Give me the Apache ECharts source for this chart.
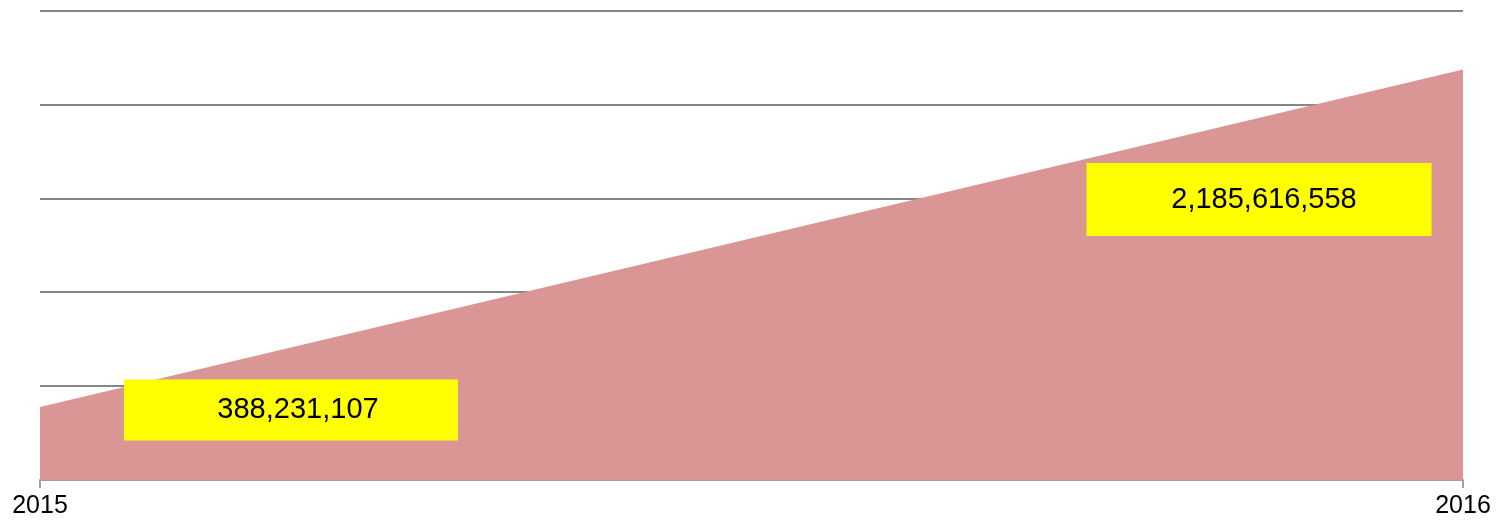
<!DOCTYPE html>
<html>
<head>
<meta charset="utf-8">
<script src="https://cdn.jsdelivr.net/npm/echarts@6/dist/echarts.min.js"></script>
<style>
html,body{margin:0;padding:0;background:#fff;}
#chart{width:1499px;height:526px;}
</style>
</head>
<body>
<div id="chart"></div>
<script>
var categories = ['2015', '2016'];
var values = [388231107, 2185616558];
var labelTexts = ['388,231,107', '2,185,616,558'];

var labelLayouts = [
  {offset: [251, 3], width: 320, padLeft: 14, height: 61},
  {offset: [-204, 130], width: 335, padLeft: 10, height: 73}
];

var chart = echarts.init(document.getElementById('chart'), null, {renderer: 'canvas'});
var seriesData = values.map(function (v, i) {
  return {
    value: v,
    label: {
      show: true,
      position: 'inside',
      offset: labelLayouts[i].offset,
      width: labelLayouts[i].width,
      height: labelLayouts[i].height,
      lineHeight: labelLayouts[i].height,
      padding: [0, 0, 0, labelLayouts[i].padLeft],
      align: 'center',
      verticalAlign: 'middle',
      backgroundColor: '#FFFF00',
      color: '#000',
      fontFamily: 'Liberation Sans, Arial, sans-serif',
      fontSize: 29,
      formatter: labelTexts[i]
    }
  };
});

chart.setOption({
  animation: false,
  backgroundColor: '#fff',
  grid: {left: 40, right: 36, top: 10.5, bottom: 46},
  xAxis: {
    type: 'category',
    data: categories,
    boundaryGap: false,
    axisLine: {show: true, lineStyle: {color: '#A0A0A0', width: 2}},
    axisTick: {show: true, length: 8, lineStyle: {color: '#A0A0A0', width: 2}},
    axisLabel: {
      color: '#000',
      fontFamily: 'Liberation Sans, Arial, sans-serif',
      fontSize: 25,
      margin: 14
    },
    splitLine: {show: false}
  },
  yAxis: {
    type: 'value',
    min: 0,
    max: 2500000000,
    interval: 500000000,
    axisLine: {show: false},
    axisTick: {show: false},
    axisLabel: {show: false},
    splitLine: {show: true, lineStyle: {color: '#868686', width: 2}}
  },
  series: [{
    type: 'line',
    data: seriesData,
    symbol: 'circle',
    symbolSize: 1,
    showSymbol: true,
    itemStyle: {color: 'rgba(0,0,0,0)'},
    lineStyle: {width: 0},
    areaStyle: {color: '#D99694', opacity: 1},
    z: 3
  }]
});
</script>
</body>
</html>
